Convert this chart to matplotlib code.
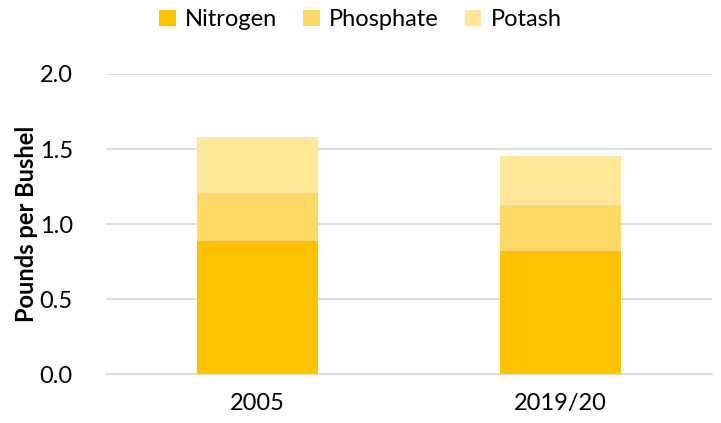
import matplotlib.pyplot as plt
import numpy as np

# data
years = ['2005', '2019/20']
nitrogen = [0.89, 0.82]
phosphate = [0.32, 0.31]
potash = [0.37, 0.32]

colors = ['#FFC000', '#FFD966', '#FFE699']

plt.rcParams['font.family'] = ['Lato', 'DejaVu Sans']

fig = plt.figure(figsize=(7.21, 4.23), dpi=100)
ax = fig.add_axes([106/721, 1 - 374/423, 606/721, 300/423])

x = np.arange(len(years))
w = 0.4
bottom = np.zeros(len(years))
for vals, col, lab in zip([nitrogen, phosphate, potash], colors, ['Nitrogen', 'Phosphate', 'Potash']):
    ax.bar(x, vals, w, bottom=bottom, color=col, label=lab, zorder=3)
    bottom += np.array(vals)

ax.set_xlim(-0.5, 1.5)
ax.set_ylim(0, 2.0)
ax.set_yticks([0, 0.5, 1.0, 1.5, 2.0])
ax.set_yticklabels(['0.0', '0.5', '1.0', '1.5', '2.0'])
ax.set_xticks(x)
ax.set_xticklabels(years)
ax.tick_params(axis='both', length=0, labelsize=17, colors='#000000')
ax.tick_params(axis='x', pad=14)
ax.tick_params(axis='y', pad=24)
ax.grid(axis='y', color='#D9D9D9', linewidth=1.2, zorder=0)
for s in ['top', 'right', 'left']:
    ax.spines[s].set_visible(False)
ax.spines['bottom'].set_color('#D9D9D9')
ax.spines['bottom'].set_linewidth(1.2)

ax.set_ylabel('Pounds per Bushel', fontsize=17, fontweight='bold', labelpad=1)

fig.legend(loc='center', bbox_to_anchor=(0.5, 1 - 20/423), ncol=3, frameon=False,
           fontsize=17, handlelength=0.7, handleheight=0.7, columnspacing=1.1,
           handletextpad=0.4)

fig.savefig('out.png', dpi=100)
